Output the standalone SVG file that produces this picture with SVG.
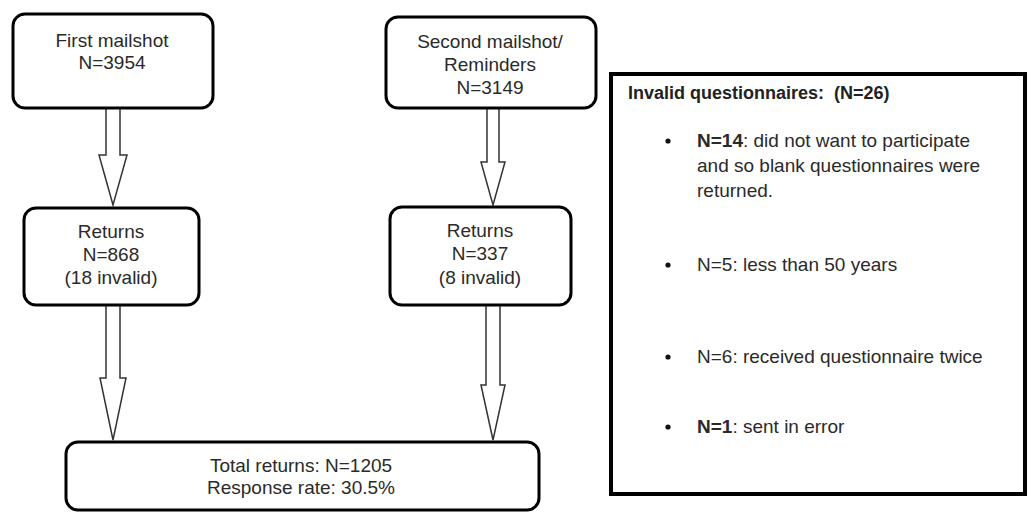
<svg xmlns="http://www.w3.org/2000/svg" width="1031" height="512" viewBox="0 0 1031 512">
<style>
.box{fill:#fff;stroke:#000;stroke-width:3}
.panel{fill:#fff;stroke:#000;stroke-width:4}
.arrow{fill:#fff;stroke:#333;stroke-width:1.5;stroke-linejoin:miter}
.t{font-family:"Liberation Sans",Arial,sans-serif;font-size:19px;fill:#2a2a2a;text-anchor:middle}
.l{font-family:"Liberation Sans",Arial,sans-serif;font-size:19px;fill:#2a2a2a}
.h{font-family:"Liberation Sans",Arial,sans-serif;font-size:18px;font-weight:bold;fill:#222}
.b{font-weight:bold}
</style>
<rect width="1031" height="512" fill="#fff"/>
<g id="connectors">
<polygon class="arrow" points="106,108 106,155 99,155 113,205 127,155 120,155 120,108"/>
<polygon class="arrow" points="106,305 106,378 100,378 113,440 126,378 120,378 120,305"/>
<polygon class="arrow" points="487,108 487,162 481,162 493,205 505,162 499,162 499,108"/>
<polygon class="arrow" points="486,305 486,385 481,385 493,440 505,385 500,385 500,305"/>
</g>
<g id="first-mailshot">
<rect class="box" x="13" y="14" width="200" height="94" rx="12"/>
<text class="t" x="112" y="47">First mailshot</text>
<text class="t" x="112" y="69">N=3954</text>
</g>
<g id="second-mailshot">
<rect class="box" x="386" y="17" width="210" height="91" rx="12"/>
<text class="t" x="490" y="48">Second mailshot/</text>
<text class="t" x="490" y="71">Reminders</text>
<text class="t" x="490" y="94">N=3149</text>
</g>
<g id="returns-1">
<rect class="box" x="24" y="208" width="175" height="97" rx="12"/>
<text class="t" x="111" y="238">Returns</text>
<text class="t" x="111" y="261">N=868</text>
<text class="t" x="111" y="284">(18 invalid)</text>
</g>
<g id="returns-2">
<rect class="box" x="390" y="207" width="181" height="98" rx="12"/>
<text class="t" x="480" y="237">Returns</text>
<text class="t" x="480" y="260">N=337</text>
<text class="t" x="480" y="284">(8 invalid)</text>
</g>
<g id="total">
<rect class="box" x="66" y="442" width="473" height="68" rx="12"/>
<text class="t" x="301" y="472">Total returns: N=1205</text>
<text class="t" x="301" y="494">Response rate: 30.5%</text>
</g>
<g id="invalid-panel">
<rect class="panel" x="611" y="74" width="414" height="420"/>
<text class="h" x="628" y="99" xml:space="preserve">Invalid questionnaires:  (N=26)</text>
<circle cx="668" cy="141" r="2.6" fill="#111"/>
<text class="l" x="697" y="147"><tspan class="b">N=14</tspan>: did not want to participate</text>
<text class="l" x="697" y="172">and so blank questionnaires were</text>
<text class="l" x="697" y="197">returned.</text>
<circle cx="668" cy="265" r="2.6" fill="#111"/>
<text class="l" x="697" y="271">N=5: less than 50 years</text>
<circle cx="668" cy="357" r="2.6" fill="#111"/>
<text class="l" x="697" y="363">N=6: received questionnaire twice</text>
<circle cx="668" cy="427" r="2.6" fill="#111"/>
<text class="l" x="697" y="433"><tspan class="b">N=1</tspan>: sent in error</text>
</g>
</svg>
